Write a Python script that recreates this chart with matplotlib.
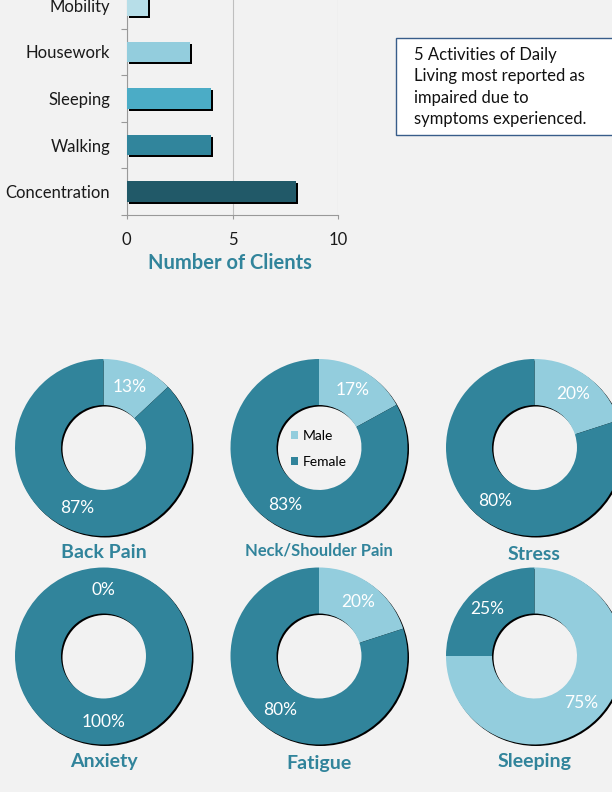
import numpy as np
import matplotlib
matplotlib.use('Agg')
import matplotlib.pyplot as plt
from matplotlib.transforms import offset_copy
from matplotlib.patches import Rectangle

plt.rcParams['font.family'] = ['Lato', 'DejaVu Sans']

# bar chart data
activities = ['Concentration', 'Walking', 'Sleeping', 'Housework', 'Mobility']
clients = [8, 4, 4, 3, 1]
bar_colors = ['#215968', '#31859C', '#4BACC6', '#93CDDD', '#B7DEE8']
xticks = [0, 5, 10]

# donut data (male / female share, %)
symptoms = ['Back Pain', 'Neck/Shoulder Pain', 'Stress', 'Anxiety', 'Fatigue', 'Sleeping']
male_pct = [13, 17, 20, 0, 20, 75]
female_pct = [87, 83, 80, 100, 80, 25]
sex_labels = ['Male', 'Female']

note = "5 Activities of Daily\nLiving most reported as\nimpaired due to\nsymptoms experienced."

BG = '#F2F2F2'
LIGHT = '#93CDDD'
DARK = '#31849B'
TITLE = '#31849B'
W, H = 612, 792

fig = plt.figure(figsize=(6.12, 7.92), dpi=100, facecolor=BG)


def px(x0, y0, x1, y1):
    # pixel box (origin top-left) -> figure fraction rect
    return [x0 / W, 1 - y1 / H, (x1 - x0) / W, (y1 - y0) / H]


# ---- bar chart ----
ax = fig.add_axes(px(126.7, -18, 338.3, 215))
ax.set_facecolor(BG)
y = np.arange(len(activities))
shadow = offset_copy(ax.transData, fig=fig, x=2, y=-2, units='dots')
ax.barh(y, clients, height=0.44, color='black', transform=shadow, zorder=2)
ax.barh(y, clients, height=0.44, color=bar_colors, zorder=3)
ax.set_xlim(0, 10)
ax.set_ylim(-0.5, len(activities) - 0.5)
ax.set_xticks(xticks)
ax.set_yticks(y)
ax.set_yticklabels(activities, fontsize=12, color='#1a1a1a')
ax.set_yticks(np.arange(-0.5, len(activities)), minor=True)
ax.tick_params(axis='y', which='major', length=0, pad=12)
ax.tick_params(axis='y', which='minor', length=4, color='#999999', width=0.8)
ax.tick_params(axis='x', length=3, pad=9, color='#999999', labelsize=12,
               labelcolor='#1a1a1a')
ax.grid(axis='x', color='#BFBFBF', lw=0.8, zorder=0)
ax.set_axisbelow(True)
for s in ['top', 'right']:
    ax.spines[s].set_visible(False)
for s in ['left', 'bottom']:
    ax.spines[s].set_color('#999999')
fig.text(230 / W, 1 - 263 / H, 'Number of Clients', ha='center', va='center',
         fontsize=14.5, fontweight='bold', color=TITLE)

# ---- note box ----
fig.add_artist(Rectangle((396 / W, 1 - 135 / H), (W + 10 - 396) / W, (135 - 38) / H,
                         transform=fig.transFigure, fc='white', ec='#385D8A', lw=1))
fig.text(414 / W, 1 - 87 / H, note, ha='left', va='center', fontsize=12,
         linespacing=1.41, color='#111111')

# ---- donuts ----
centers = [(103.5, 447.5), (319, 447.5), (534.5, 447.5),
           (103.5, 656), (319, 656), (534.5, 656)]
title_y = [552, 550, 554, 762, 763, 761]
title_size = [14, 11.9, 14, 14, 14, 14]
R = 88.5
neck_wedges = None
for i, name in enumerate(symptoms):
    cx, cy = centers[i]
    half = R * 1.2
    dax = fig.add_axes(px(cx - half, cy - half, cx + half, cy + half))
    sh, _ = dax.pie([1], colors=['black'], wedgeprops=dict(width=0.52, lw=0))
    for w in sh:
        w.set_transform(offset_copy(dax.transData, fig=fig, x=1.5, y=-1.5, units='dots'))
        w.set_zorder(1)
    wedges, _, autotexts = dax.pie(
        [male_pct[i], female_pct[i]], colors=[LIGHT, DARK], startangle=90,
        counterclock=False, autopct=lambda p: f'{p:.0f}%', pctdistance=0.75,
        wedgeprops=dict(width=0.52, lw=0),
        textprops=dict(color='white', fontsize=12.5))
    for w in wedges:
        w.set_zorder(2)
    for t in autotexts:
        t.set_zorder(3)
    dax.set_xlim(-1.2, 1.2)
    dax.set_ylim(-1.2, 1.2)
    dax.axis('off')
    fig.text(cx / W, 1 - title_y[i] / H, name, ha='center', va='center',
             fontsize=title_size[i], fontweight='bold', color=TITLE)
    if i == 1:
        neck_wedges = wedges

fig.legend(neck_wedges, sex_labels, loc='center', bbox_to_anchor=(319 / W, 1 - 449 / H),
           frameon=False, fontsize=10, handlelength=0.55, handleheight=0.55,
           handletextpad=0.35, labelspacing=1.0, borderpad=0)

fig.savefig('out.png', dpi=100, facecolor=BG)
